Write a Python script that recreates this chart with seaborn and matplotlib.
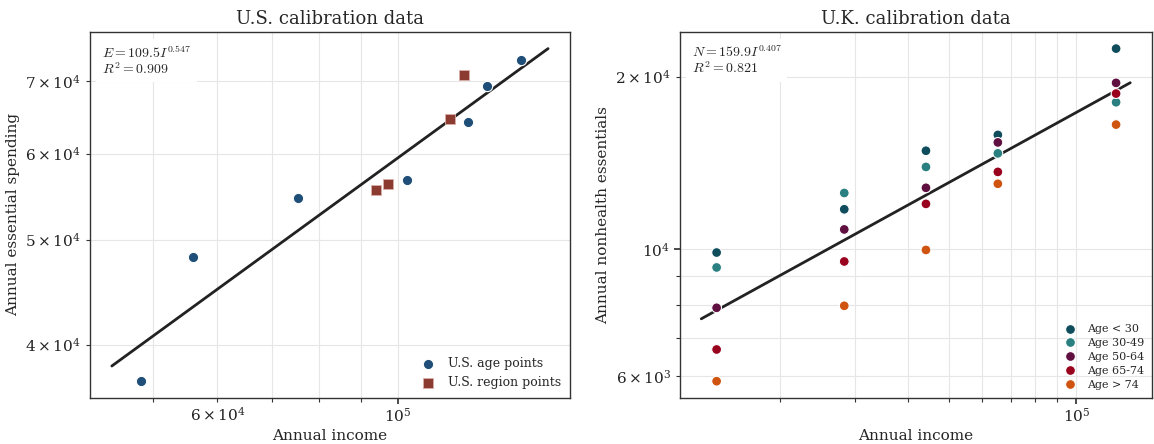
import numpy as np
import pandas as pd
import matplotlib
matplotlib.use("Agg")
import matplotlib.pyplot as plt
import seaborn as sns

# U.S. calibration points
us_age_income = [48400, 55980, 75420, 102700, 121700, 128500, 141500]
us_age_spend = [37000, 48200, 54600, 56700, 64150, 69340, 73170]
us_region_income = [93900, 97200, 115900, 120600]
us_region_spend = [55530, 56260, 64560, 70940]
us_coef, us_exp, us_r2 = 109.5, 0.547, 0.909

# U.K. calibration points (income by quintile, spending by age group)
uk_income = [14170, 28340, 44170, 65270, 124030]
uk_groups = ["Age < 30", "Age 30-49", "Age 50-64", "Age 65-74", "Age > 74"]
uk_lt30 = [9870, 11743, 14855, 15830, 22390]
uk_30_49 = [9296, 12537, 13920, 14700, 18050]
uk_50_64 = [7905, 10830, 12800, 15360, 19510]
uk_65_74 = [6687, 9522, 12000, 13645, 18690]
uk_gt74 = [5887, 7969, 9973, 13010, 16500]
uk_coef, uk_exp, uk_r2 = 159.9, 0.407, 0.821

uk_colors = ["#0f4c5c", "#2a7f80", "#5f0f40", "#9a031e", "#cf5410"]

sns.set_theme(style="whitegrid")
plt.rcParams["font.family"] = ["DejaVu Serif"]
plt.rcParams["mathtext.fontset"] = "cm"
plt.rcParams.update({
    "axes.edgecolor": "#333333",
    "axes.linewidth": 1.0,
    "grid.color": "#e6e6e6",
    "grid.linewidth": 0.8,
    "xtick.bottom": True,
    "ytick.left": True,
    "xtick.color": "#333333",
    "ytick.color": "#333333",
    "xtick.labelcolor": "#222222",
    "ytick.labelcolor": "#222222",
    "xtick.major.size": 4,
    "ytick.major.size": 4,
    "xtick.minor.size": 3,
    "ytick.minor.size": 3,
    "xtick.minor.width": 0.8,
    "ytick.minor.width": 0.8,
    "xtick.major.pad": 2.5,
    "xtick.minor.pad": 2.5,
})

fig, axes = plt.subplots(1, 2, figsize=(11.54, 4.44), dpi=100,
                         gridspec_kw={"width_ratios": [480, 472]})
fig.subplots_adjust(left=0.078, right=0.998, bottom=0.104, top=0.928, wspace=0.231)


def fit_line(ax, xs, coef, expo):
    lo, hi = min(xs) * 0.92, max(xs) * 1.08
    grid = np.geomspace(lo, hi, 50)
    ax.plot(grid, coef * grid ** expo, color="#222222", lw=2, zorder=2)


def annot(ax, letter, coef, expo, r2):
    txt = f"${letter} = {coef}I^{{{expo}}}$\n$R^2 = {r2}$"
    ax.text(0.025, 0.965, txt, transform=ax.transAxes, va="top", ha="left",
            fontsize=10, linespacing=1.0,
            bbox=dict(facecolor="white", edgecolor="none", pad=4))


# left panel
ax = axes[0]
ax.set_xscale("log")
ax.set_yscale("log")
fit_line(ax, us_age_income + us_region_income, us_coef, us_exp)
df_age = pd.DataFrame({"income": us_age_income, "spend": us_age_spend})
df_reg = pd.DataFrame({"income": us_region_income, "spend": us_region_spend})
sns.scatterplot(data=df_age, x="income", y="spend", ax=ax, color="#1f4e79",
                s=55, marker="o", edgecolor="white", linewidth=0.8,
                label="U.S. age points", zorder=3)
sns.scatterplot(data=df_reg, x="income", y="spend", ax=ax, color="#8c3b30",
                s=60, marker="s", edgecolor="#d9b0a8", linewidth=0.6,
                label="U.S. region points", zorder=3)
ax.grid(True, which="both")
ax.set_title("U.S. calibration data", fontsize=13)
ax.set_xlabel("Annual income", fontsize=11, labelpad=3)
ax.set_ylabel("Annual essential spending", fontsize=11)
ax.tick_params(which="both", labelsize=11)
annot(ax, "E", us_coef, us_exp, us_r2)
ax.legend(loc="lower right", frameon=False, fontsize=9, handletextpad=0.6,
          borderaxespad=0.3)

# right panel
ax = axes[1]
ax.set_xscale("log")
ax.set_yscale("log")
fit_line(ax, uk_income, uk_coef, uk_exp)
uk_vals = [uk_lt30, uk_30_49, uk_50_64, uk_65_74, uk_gt74]
df_uk = pd.DataFrame({
    "income": uk_income * len(uk_groups),
    "spend": sum(uk_vals, []),
    "group": [g for g in uk_groups for _ in uk_income],
})
sns.scatterplot(data=df_uk, x="income", y="spend", hue="group",
                hue_order=uk_groups, palette=uk_colors, ax=ax, s=50,
                edgecolor="white", linewidth=0.8, zorder=3)
ax.grid(True, which="both")
ax.set_title("U.K. calibration data", fontsize=13)
ax.set_xlabel("Annual income", fontsize=11, labelpad=3)
ax.set_ylabel("Annual nonhealth essentials", fontsize=11)
ax.tick_params(which="both", labelsize=11)
annot(ax, "N", uk_coef, uk_exp, uk_r2)
ax.legend(loc="lower right", frameon=False, fontsize=8, title=None,
          handletextpad=0.5, borderaxespad=0.3, labelspacing=0.35)

fig.savefig("out.png", dpi=100)
